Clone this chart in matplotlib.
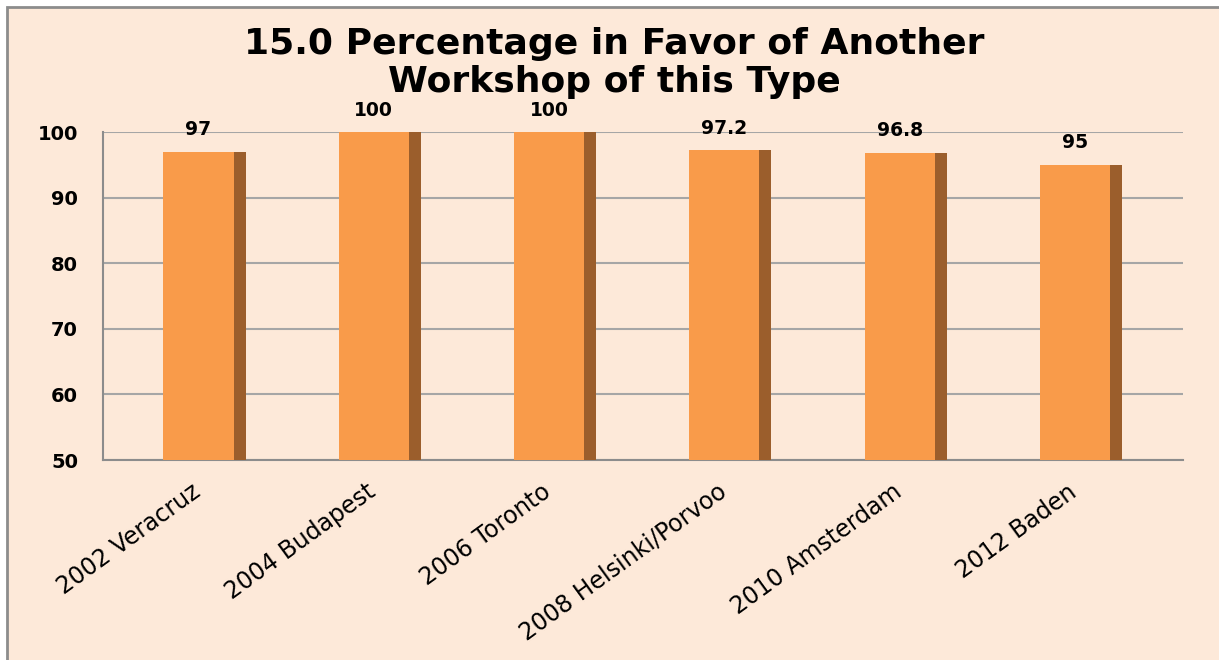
import matplotlib
matplotlib.use("Agg")
import matplotlib.pyplot as plt
import matplotlib.transforms as mtransforms
from matplotlib.patches import Rectangle

categories = ["2002 Veracruz", "2004 Budapest", "2006 Toronto",
              "2008 Helsinki/Porvoo", "2010 Amsterdam", "2012 Baden"]
values = [97, 100, 100, 97.2, 96.8, 95]
labels = ["97", "100", "100", "97.2", "96.8", "95"]
yticks = [50, 60, 70, 80, 90, 100]

bg = "#FDE9D9"
front = "#F99B4A"
side = "#9B5E2C"
grid = "#A6A6A6"

# the source picture is stretched sideways, DejaVu is the wider face
plt.rcParams["font.family"] = ["DejaVu Sans"]

W, H = 1219, 660
fig = plt.figure(figsize=(W / 100, H / 100), dpi=100, facecolor="white")
# outer chart frame
fig.patches.append(Rectangle((7 / W, -0.05), 1.1, 1 - 7 / H + 0.05,
                             transform=fig.transFigure, facecolor=bg,
                             edgecolor="#8C8C8C", lw=2, zorder=-1))

ax = fig.add_axes([103 / W, 1 - 460 / H, (1183 - 103) / W, (460 - 132) / H])
ax.set_facecolor("none")

x = list(range(len(categories)))
bw, sw = 0.40, 0.068
ax.bar(x, [v - 50 for v in values], bottom=50, width=bw, color=front, zorder=3)
ax.bar([i + bw / 2 + sw / 2 for i in x], [v - 50 for v in values], bottom=50,
       width=sw, color=side, zorder=3)

for i, v, t in zip(x, values, labels):
    ax.annotate(t, (i, v), xytext=(0, 9), textcoords="offset points",
                ha="center", va="bottom", fontsize=13.5, fontweight="bold")

ax.set_ylim(50, 100)
ax.set_xlim(-0.545, 5.616)
ax.set_yticks(yticks)
ax.yaxis.grid(True, color=grid, lw=1.5, zorder=0)
ax.set_axisbelow(True)
for s in ["top", "right"]:
    ax.spines[s].set_visible(False)
for s in ["left", "bottom"]:
    ax.spines[s].set_color("#8C8C8C")
    ax.spines[s].set_linewidth(1.5)
ax.tick_params(axis="y", length=0, pad=18, labelsize=14)
for lab in ax.get_yticklabels():
    lab.set_fontweight("bold")
ax.set_xticks(x)
ax.set_xticklabels(categories, rotation=36, ha="right", rotation_mode="anchor",
                   fontsize=17)
ax.tick_params(axis="x", length=0, pad=14)
shift = mtransforms.ScaledTranslation(-8 / 100, 0, fig.dpi_scale_trans)
for lab in ax.get_xticklabels():
    lab.set_transform(lab.get_transform() + shift)

fig.text(614 / W, 1 - 54 / H, "15.0 Percentage in Favor of Another",
         ha="center", va="baseline", fontsize=26, fontweight="bold")
fig.text(614 / W, 1 - 92 / H, "Workshop of this Type",
         ha="center", va="baseline", fontsize=26, fontweight="bold")

fig.savefig("out.png", dpi=100, facecolor="white")
